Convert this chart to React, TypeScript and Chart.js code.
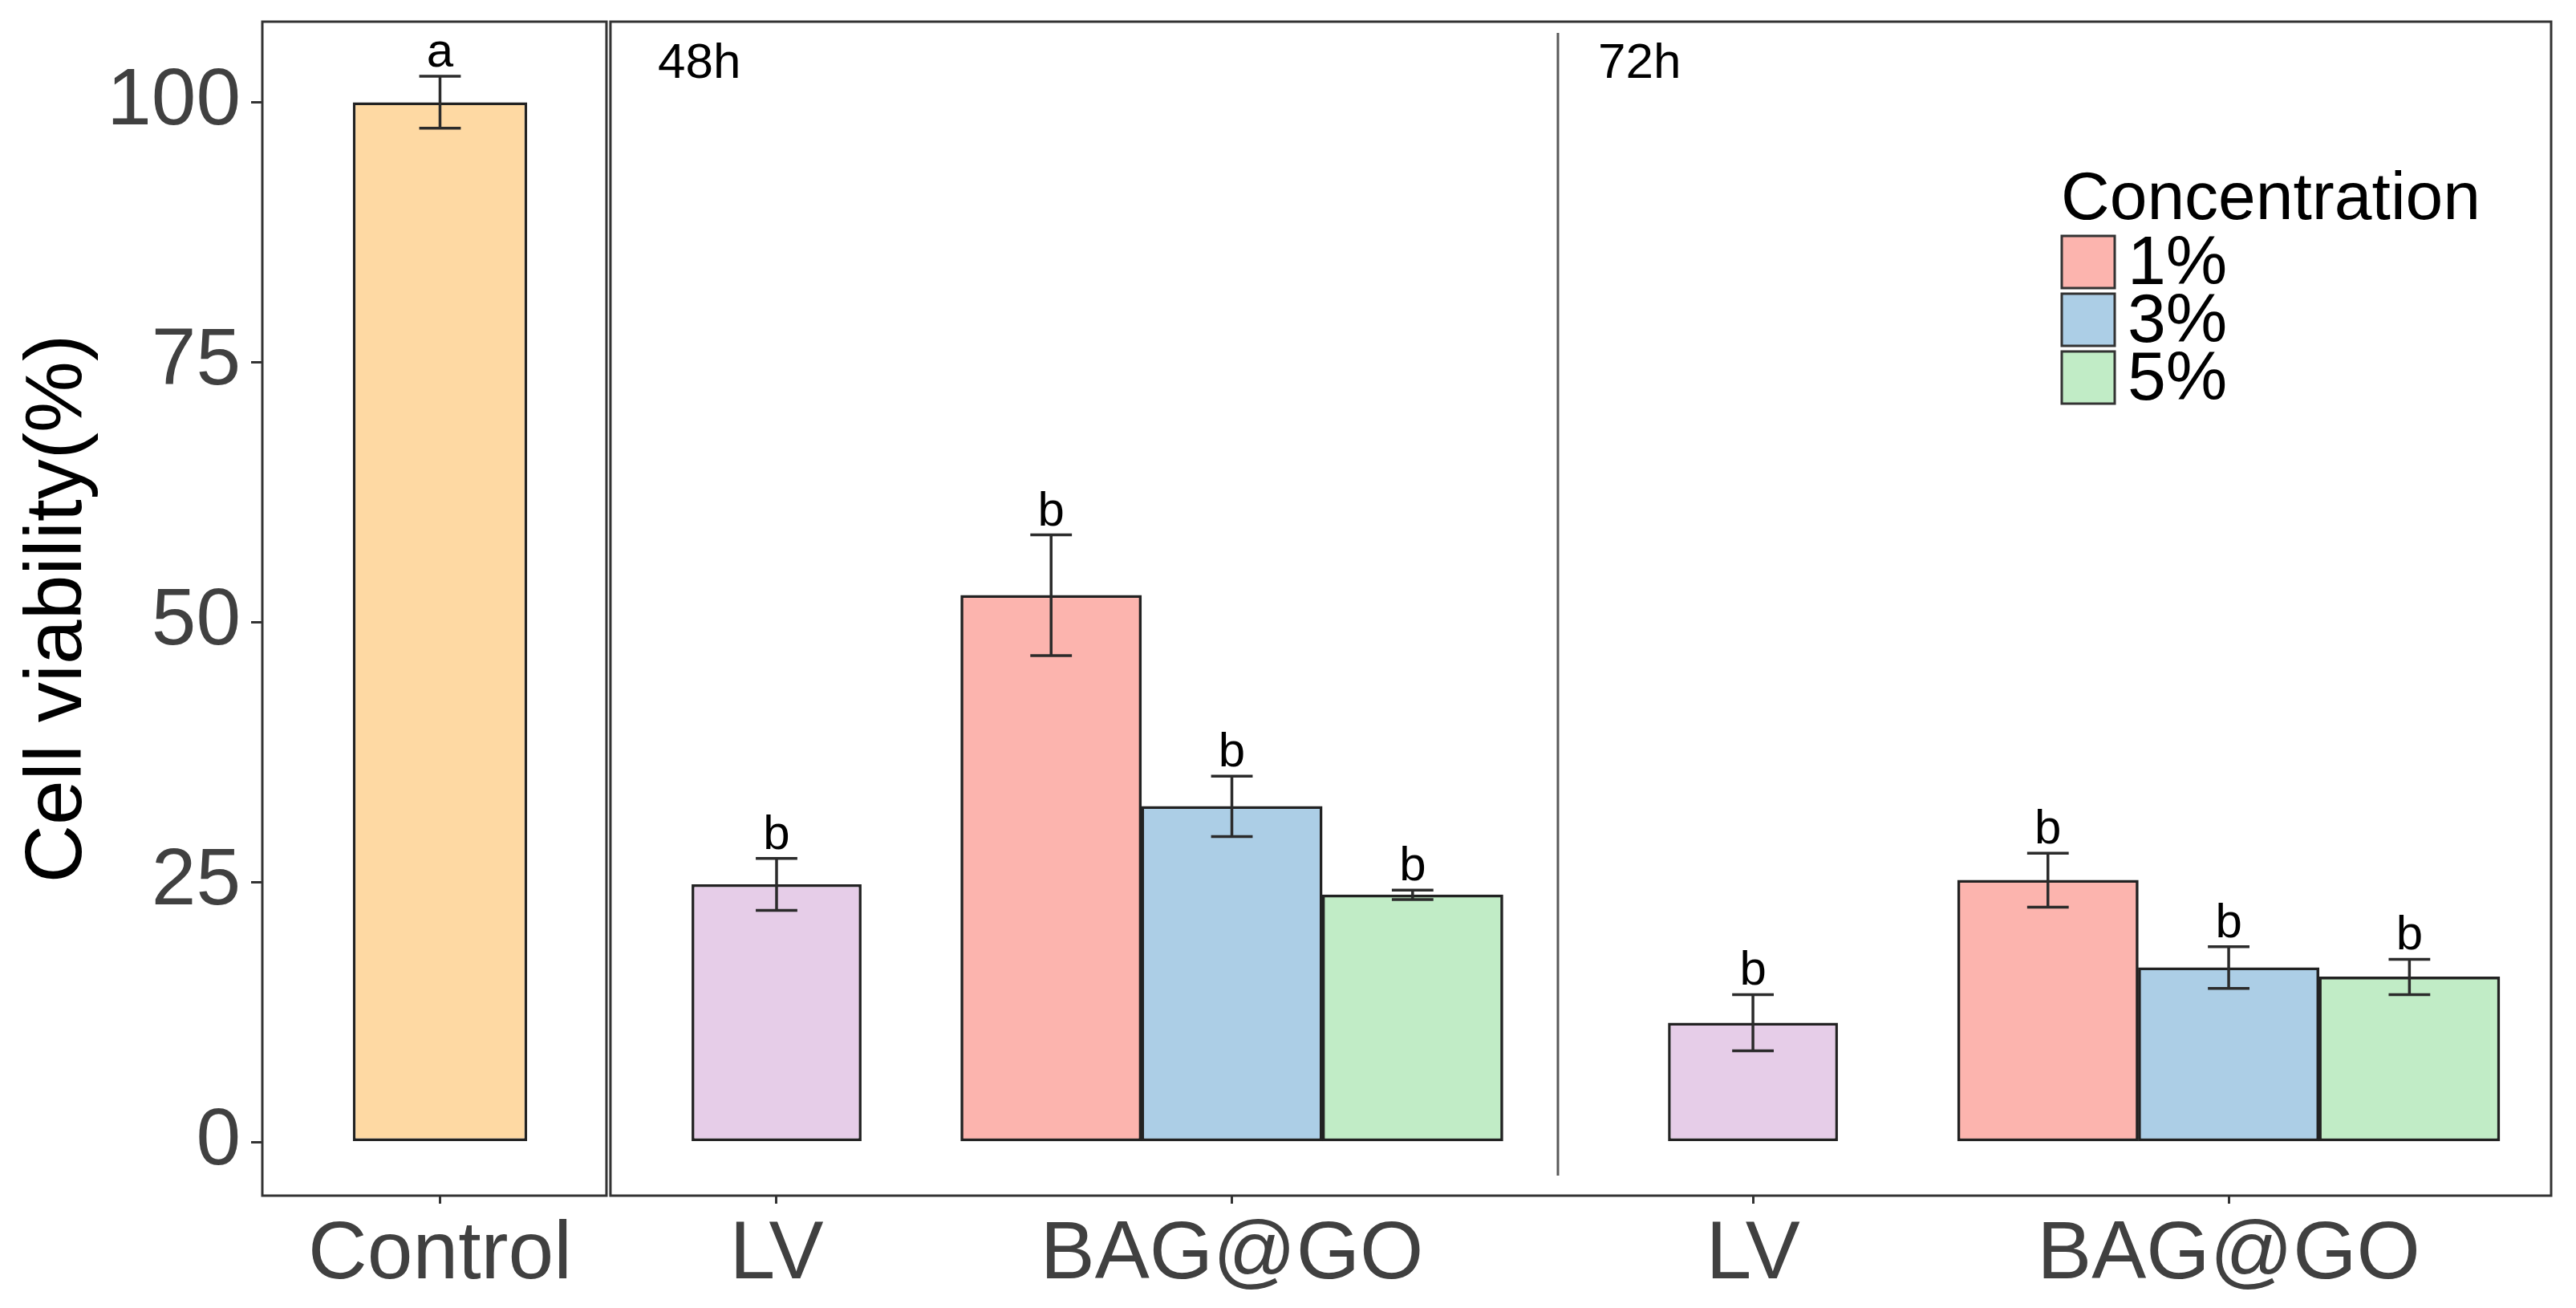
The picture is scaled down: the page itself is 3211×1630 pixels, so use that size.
import { useEffect, useRef } from 'react';
import { Chart, registerables } from 'chart.js';

Chart.register(...registerables);

// categories
const groupLabels = ['Control', 'LV', 'BAG@GO', 'LV', 'BAG@GO'];
const timeLabels = ['48h', '72h'];
const concentrations = ['1%', '3%', '5%'];

// series values (mean and error, %)
const controlMean = [100];
const controlSd = [2.5];
const lvMean = [24.8, 11.5];
const lvSd = [2.5, 2.7];
const bag1Mean = [52.6, 25.2];
const bag1Sd = [5.8, 2.6];
const bag3Mean = [32.3, 16.8];
const bag3Sd = [2.9, 2.0];
const bag5Mean = [23.8, 15.9];
const bag5Sd = [0.45, 1.7];

// significance letters
const controlLetters = ['a'];
const lvLetters = ['b', 'b'];
const bag1Letters = ['b', 'b'];
const bag3Letters = ['b', 'b'];
const bag5Letters = ['b', 'b'];

const yTicks = [0, 25, 50, 75, 100];

// layout on the x axis, one unit = one bar width
const groupX = [0.983, 2.845, 5.364, 8.247, 10.879];
const dodge = [-1, 0, 1];
const xRange = [0, 12.663];
const yRange = [-5.13, 107.75];
const panelGap = [1.904, 1.926];
const timeSplit = 7.168;
const timeLabelX = [2.188, 7.39];
const capWidth = 0.23;

const FONT = "'Liberation Sans', Arial, sans-serif";
const INK = '#2b2b2b';

const bagMeans = [bag1Mean, bag3Mean, bag5Mean];
const bagSds = [bag1Sd, bag3Sd, bag5Sd];
const bagLetters = [bag1Letters, bag3Letters, bag5Letters];
const bagColors = ['#FCB4AE', '#ACCEE6', '#C1ECC6'];

const annotate = {
  id: 'annotate',
  afterDatasetsDraw(chart: any) {
    const { ctx, chartArea: a, scales } = chart;
    const x = scales.x;
    const y = scales.y;
    ctx.save();

    // error bars and letters
    const half = (x.getPixelForValue(capWidth) - x.getPixelForValue(0)) / 2;
    ctx.strokeStyle = INK;
    ctx.lineWidth = 3.5;
    ctx.fillStyle = '#000';
    ctx.font = `60px ${FONT}`;
    ctx.textAlign = 'center';
    ctx.textBaseline = 'alphabetic';
    chart.data.datasets.forEach((ds: any, di: number) => {
      const meta = chart.getDatasetMeta(di);
      ds.data.forEach((pt: any, i: number) => {
        const cx = meta.data[i].x;
        const hi = y.getPixelForValue(pt.y + ds.errors[i]);
        const lo = y.getPixelForValue(pt.y - ds.errors[i]);
        ctx.beginPath();
        ctx.moveTo(cx, hi);
        ctx.lineTo(cx, lo);
        ctx.moveTo(cx - half, hi);
        ctx.lineTo(cx + half, hi);
        ctx.moveTo(cx - half, lo);
        ctx.lineTo(cx + half, lo);
        ctx.stroke();
        ctx.fillText(ds.letters[i], cx, hi - 12);
      });
    });

    // panel frames
    ctx.strokeStyle = '#333';
    ctx.lineWidth = 3;
    const split0 = x.getPixelForValue(panelGap[0]);
    const split1 = x.getPixelForValue(panelGap[1]);
    ctx.strokeRect(a.left, a.top, split0 - a.left, a.bottom - a.top);
    ctx.strokeRect(split1, a.top, a.right - split1, a.bottom - a.top);

    // 48h / 72h divider
    const sx = x.getPixelForValue(timeSplit);
    ctx.strokeStyle = '#5a5a5a';
    ctx.beginPath();
    ctx.moveTo(sx, a.top + 14);
    ctx.lineTo(sx, a.bottom - 25);
    ctx.stroke();

    ctx.fillStyle = '#000';
    ctx.font = `62px ${FONT}`;
    ctx.textAlign = 'left';
    timeLabels.forEach((t, i) => {
      ctx.fillText(t, x.getPixelForValue(timeLabelX[i]), a.top + 70);
    });
    ctx.restore();
  },
  afterDraw(chart: any) {
    const { ctx, chartArea: a } = chart;
    const left = a.right - 611;
    ctx.save();
    ctx.fillStyle = '#000';
    ctx.textAlign = 'left';
    ctx.textBaseline = 'alphabetic';
    ctx.font = `84px ${FONT}`;
    ctx.fillText('Concentration', left, a.top + 246);
    const items = chart.data.datasets.filter((d: any) => d.inLegend);
    items.forEach((d: any, i: number) => {
      const top = a.top + 267 + i * 72;
      ctx.fillStyle = d.backgroundColor;
      ctx.fillRect(left + 1, top, 66, 65);
      ctx.strokeStyle = '#333';
      ctx.lineWidth = 3;
      ctx.strokeRect(left + 1, top, 66, 65);
      ctx.fillStyle = '#000';
      ctx.font = `86px ${FONT}`;
      ctx.textBaseline = 'middle';
      ctx.fillText(d.label, left + 83, top + 36);
      ctx.textBaseline = 'alphabetic';
    });
    ctx.restore();
  },
};

export default function App() {
  const canvasRef = useRef<HTMLCanvasElement>(null);

  useEffect(() => {
    document.body.style.margin = '0';
    if (!canvasRef.current) return;

    const barStyle = {
      borderColor: '#222',
      borderWidth: 3.5,
      borderSkipped: false,
      grouped: false,
      categoryPercentage: 1,
    };

    const datasets: any[] = [
      {
        label: 'Control',
        data: controlMean.map((v) => ({ x: groupX[0], y: v })),
        errors: controlSd,
        letters: controlLetters,
        backgroundColor: '#FED9A3',
        barPercentage: 0.965,
        ...barStyle,
      },
      {
        label: 'LV',
        data: lvMean.map((v, i) => ({ x: groupX[1 + 2 * i], y: v })),
        errors: lvSd,
        letters: lvLetters,
        backgroundColor: '#E6CDE8',
        barPercentage: 0.94,
        ...barStyle,
      },
      ...concentrations.map((c, k) => ({
        label: c,
        data: bagMeans[k].map((v, i) => ({ x: groupX[2 + 2 * i] + dodge[k], y: v })),
        errors: bagSds[k],
        letters: bagLetters[k],
        backgroundColor: bagColors[k],
        barPercentage: 1,
        inLegend: true,
        ...barStyle,
      })),
    ];

    const tickColor = '#404040';

    const chart = new Chart(canvasRef.current, {
      type: 'bar',
      data: { datasets },
      options: {
        responsive: true,
        maintainAspectRatio: false,
        animation: false,
        layout: { padding: { top: 27, right: 31, left: 0, bottom: 0 } },
        plugins: {
          legend: { display: false },
          tooltip: { enabled: false },
        },
        scales: {
          x: {
            type: 'linear',
            min: xRange[0],
            max: xRange[1],
            offset: false,
            afterBuildTicks: (s: any) => {
              s.ticks = groupX.map((v) => ({ value: v }));
            },
            afterFit: (s: any) => {
              s.height = 140;
            },
            ticks: {
              autoSkip: false,
              maxRotation: 0,
              callback: (_v: any, i: number) => groupLabels[i],
              font: { family: FONT, size: 102, lineHeight: 1 },
              color: tickColor,
              padding: 14,
            },
            grid: {
              offset: false,
              drawOnChartArea: false,
              tickLength: 10,
              color: '#333',
              lineWidth: 3,
            },
            border: { display: false },
          },
          y: {
            type: 'linear',
            min: yRange[0],
            max: yRange[1],
            afterBuildTicks: (s: any) => {
              s.ticks = yTicks.map((v) => ({ value: v }));
            },
            afterFit: (s: any) => {
              s.width = 327;
            },
            ticks: {
              font: { family: FONT, size: 100, lineHeight: 0.2 },
              color: tickColor,
              padding: 13,
            },
            grid: {
              drawOnChartArea: false,
              tickLength: 14,
              color: '#333',
              lineWidth: 3,
            },
            border: { display: false },
            title: {
              display: true,
              text: 'Cell viability(%)',
              font: { family: FONT, size: 100 },
              color: '#000',
              padding: { top: 13, bottom: 0 },
            },
          },
        },
      } as any,
      plugins: [annotate],
    });

    return () => chart.destroy();
  }, []);

  return (
    <div style={{ width: 3211, height: 1630, position: 'relative' }}>
      <canvas ref={canvasRef} />
    </div>
  );
}
